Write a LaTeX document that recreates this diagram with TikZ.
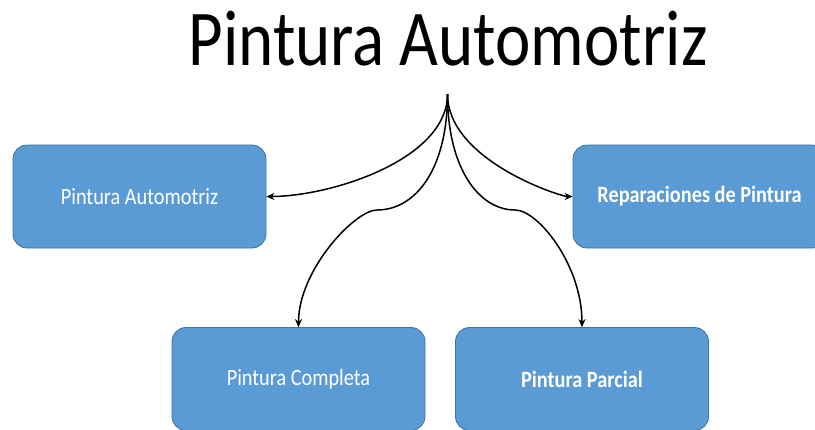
\documentclass[tikz,border=0pt]{standalone}
\usepackage{fontspec}
\setmainfont{Carlito}
\usetikzlibrary{arrows.meta}
\definecolor{boxfill}{HTML}{5B9BD5}
\definecolor{boxline}{HTML}{41719C}
\newcommand{\vstretchtxt}[1]{\scalebox{1}[1.15]{#1}}
\begin{document}
\begin{tikzpicture}[x=1pt,y=-1pt,
  box/.style={draw=boxline,line width=0.8pt,fill=boxfill,rounded corners=14pt,
    minimum width=253pt,minimum height=103pt,text=white,
    font=\fontsize{20.3}{24}\selectfont,inner sep=0pt},
  conn/.style={draw=black,line width=1.5pt,-{Stealth[length=8pt,width=7pt]}}]
\useasboundingbox (0,0) rectangle (815,429);
\node[anchor=base,font=\fontsize{67}{70}\selectfont,inner sep=0pt] (title) at (448,65)
  {\scalebox{1}[1.18]{Pintura Automotriz}};
\node[box] (b1) at (139.5,196.5) {\vstretchtxt{Pintura Automotriz}};
\node[box] (b2) at (699.5,196.5) {\vstretchtxt{\bfseries Reparaciones de Pintura}};
\node[box] (b3) at (298.5,379) {\vstretchtxt{Pintura Completa}};
\node[box] (b4) at (582,379) {\vstretchtxt{\bfseries Pintura Parcial}};
\coordinate (src) at (447.5,94);
\coordinate (m3) at (377,210);
\coordinate (m4) at (515,210);
\draw[conn] (src) .. controls (447.5,160) and (330,196.5) .. (b1.east);
\draw[conn] (src) .. controls (447.5,160) and (560,196.5) .. (b2.west);
\draw[conn] (src) .. controls (447.5,170) and (415,210) .. (m3)
  .. controls (355,210) and (298.5,270) .. (b3.north);
\draw[conn] (src) .. controls (447.5,170) and (480,210) .. (m4)
  .. controls (538,210) and (582,265) .. (b4.north);
\end{tikzpicture}
\end{document}
